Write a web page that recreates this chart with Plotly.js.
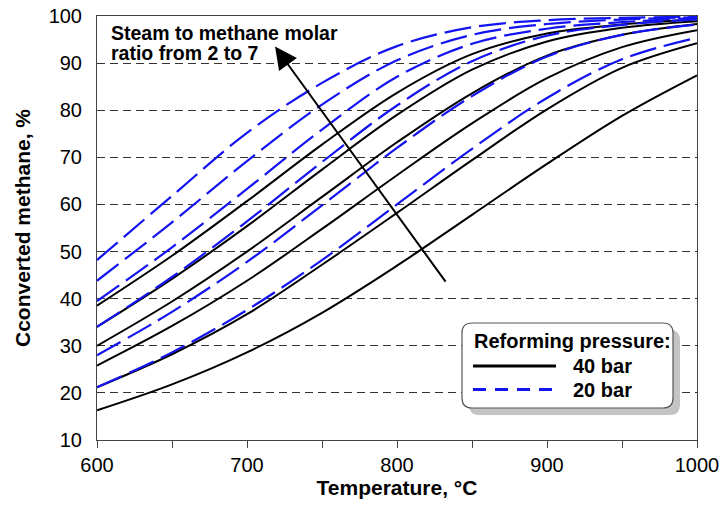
<!DOCTYPE html>
<html><head><meta charset="utf-8">
<script src="https://cdn.plot.ly/plotly-3.0.1.min.js"></script>
<style>html,body{margin:0;padding:0;background:#fff;} #chart{width:723px;height:517px;}</style>
</head><body><div id="chart"></div>
<script>
// ---- data ----
const temperature = [600, 650, 700, 750, 800, 850, 900, 950, 1000];
const ratioLabels = ["2", "3", "4", "5", "6", "7"];

// 40 bar (solid black), steam/methane ratio 2..7
const p40_r2 = [16.3, 21.8, 28.6, 37.0, 47.0, 57.8, 68.6, 78.8, 87.4];
const p40_r3 = [21.2, 28.2, 36.7, 47.2, 58.2, 69.4, 80.2, 89.0, 94.2];
const p40_r4 = [25.8, 34.2, 43.8, 54.8, 66.2, 77.2, 86.8, 93.4, 97.0];
const p40_r5 = [30.0, 39.4, 50.0, 61.6, 73.2, 83.6, 91.6, 96.0, 98.3];
const p40_r6 = [34.0, 44.2, 55.4, 67.4, 79.0, 88.6, 94.6, 97.5, 98.9];
const p40_r7 = [38.5, 49.1, 60.7, 72.7, 83.7, 91.9, 96.3, 98.2, 99.3];

// 20 bar (dashed blue), steam/methane ratio 2..7
const p20_r2 = [21.2, 28.6, 37.6, 48.2, 60.0, 71.8, 82.6, 90.8, 95.4];
const p20_r3 = [28.0, 37.2, 47.8, 59.8, 72.0, 83.0, 91.4, 96.0, 98.2];
const p20_r4 = [34.0, 44.6, 56.4, 69.0, 81.0, 90.4, 95.8, 98.1, 99.3];
const p20_r5 = [39.5, 50.9, 63.3, 75.9, 87.1, 94.1, 97.3, 98.7, 99.6];
const p20_r6 = [43.8, 56.2, 69.2, 81.2, 90.6, 96.0, 98.3, 99.25, 99.75];
const p20_r7 = [48.2, 61.8, 75.2, 85.8, 93.6, 97.6, 99.1, 99.6, 99.85];

const xTicks = [600, 700, 800, 900, 1000];
const yTicks = [10, 20, 30, 40, 50, 60, 70, 80, 90, 100];

// ---- styling ----
const FONT = "Liberation Sans, Arial, sans-serif";
const BLACK = "#000000";
const BLUE = "rgb(20,20,240)";

const series40 = [p40_r2, p40_r3, p40_r4, p40_r5, p40_r6, p40_r7];
const series20 = [p20_r2, p20_r3, p20_r4, p20_r5, p20_r6, p20_r7];

const traces = [];
series40.forEach((ys, i) => traces.push({
  x: temperature, y: ys, type: "scatter", mode: "lines",
  name: "40 bar, ratio " + ratioLabels[i], showlegend: false,
  line: {color: BLACK, width: 2, shape: "spline", smoothing: 1}
}));
series20.forEach((ys, i) => traces.push({
  x: temperature, y: ys, type: "scatter", mode: "lines",
  name: "20 bar, ratio " + ratioLabels[i], showlegend: false,
  line: {color: BLUE, width: 2.2, dash: "27px,8px", shape: "spline", smoothing: 1}
}));

// pixel -> paper helpers for decorations (plot area 97..697 x 16..440)
const PX = p => (p - 97) / 600;
const PY = p => (440 - p) / 424;
function rr(x0, y0, x1, y1, r) {
  const X = p => PX(p).toFixed(5), Y = p => PY(p).toFixed(5);
  return `M${X(x0 + r)},${Y(y0)} L${X(x1 - r)},${Y(y0)} Q${X(x1)},${Y(y0)} ${X(x1)},${Y(y0 + r)} ` +
         `L${X(x1)},${Y(y1 - r)} Q${X(x1)},${Y(y1)} ${X(x1 - r)},${Y(y1)} L${X(x0 + r)},${Y(y1)} ` +
         `Q${X(x0)},${Y(y1)} ${X(x0)},${Y(y1 - r)} L${X(x0)},${Y(y0 + r)} Q${X(x0)},${Y(y0)} ${X(x0 + r)},${Y(y0)} Z`;
}

const lx0 = 462, ly0 = 323, lx1 = 673, ly1 = 408;
const shapes = [
  {type: "path", xref: "paper", yref: "paper", path: rr(lx0 + 7, ly0 + 7, lx1 + 7, ly1 + 7, 10),
   fillcolor: "#c4c4c4", line: {width: 0}, layer: "above"},
  {type: "path", xref: "paper", yref: "paper", path: rr(lx0, ly0, lx1, ly1, 10),
   fillcolor: "#ffffff", line: {color: "#555", width: 1.2}, layer: "above"},
  {type: "line", xref: "paper", yref: "paper", x0: PX(473), x1: PX(556), y0: PY(366), y1: PY(366),
   line: {color: BLACK, width: 3}, layer: "above"},
  {type: "line", xref: "paper", yref: "paper", x0: PX(473), x1: PX(556), y0: PY(389.5), y1: PY(389.5),
   line: {color: BLUE, width: 3, dash: "13px,9px"}, layer: "above"}
];

const annotations = [
  {xref: "paper", yref: "paper", x: PX(109), y: PY(33), xanchor: "left", yanchor: "middle", showarrow: false,
   text: "<b>Steam to methane molar</b>", font: {family: FONT, size: 19.5, color: "#000"}},
  {xref: "paper", yref: "paper", x: PX(109), y: PY(53.5), xanchor: "left", yanchor: "middle", showarrow: false,
   text: "<b>ratio from 2 to 7</b>", font: {family: FONT, size: 19.5, color: "#000"}},
  {xref: "x", yref: "y", x: 718.7, y: 93.5, axref: "x", ayref: "y", ax: 833.1, ay: 43.3,
   text: "", showarrow: true, arrowhead: 2, arrowsize: 2.2, arrowwidth: 2, arrowcolor: "#000"},
  {xref: "paper", yref: "paper", x: PX(472), y: PY(341), xanchor: "left", yanchor: "middle", showarrow: false,
   text: "<b>Reforming pressure:</b>", font: {family: FONT, size: 20, color: "#000"}},
  {xref: "paper", yref: "paper", x: PX(571), y: PY(366), xanchor: "left", yanchor: "middle", showarrow: false,
   text: "<b>40 bar</b>", font: {family: FONT, size: 20, color: "#000"}},
  {xref: "paper", yref: "paper", x: PX(571), y: PY(390), xanchor: "left", yanchor: "middle", showarrow: false,
   text: "<b>20 bar</b>", font: {family: FONT, size: 20, color: "#000"}}
];

const layout = {
  width: 723, height: 517,
  margin: {l: 97, r: 26, t: 16, b: 77},
  paper_bgcolor: "#fff", plot_bgcolor: "#fff",
  font: {family: FONT, color: "#000"},
  showlegend: false,
  xaxis: {
    range: [600, 1000], tickvals: xTicks, ticktext: xTicks.map(String),
    ticks: "outside", ticklen: 7, tickwidth: 1, tickcolor: "#444",
    minor: {dtick: 50, tick0: 600, ticks: "outside", ticklen: 7, tickwidth: 1, tickcolor: "#444", showgrid: false},
    showline: true, mirror: true, linecolor: "#444", linewidth: 1,
    showgrid: false, zeroline: false,
    tickfont: {family: FONT, size: 20, color: "#000"},
    title: {text: "<b>Temperature, °C</b>", font: {family: FONT, size: 21, color: "#000"}, standoff: 5}
  },
  yaxis: {
    range: [10, 100], tickvals: yTicks, ticktext: yTicks.map(String),
    ticks: "", ticklabelstandoff: 10,
    showline: true, mirror: true, linecolor: "#444", linewidth: 1,
    showgrid: true, gridcolor: "#333", gridwidth: 1, griddash: "8px,5px",
    zeroline: false,
    tickfont: {family: FONT, size: 20, color: "#000"},
    title: {text: "<b>Cconverted methane, %</b>", font: {family: FONT, size: 21, color: "#000"}, standoff: 12}
  },
  shapes: shapes,
  annotations: annotations
};

Plotly.newPlot("chart", traces, layout, {staticPlot: true, displayModeBar: false});
</script>
</body></html>
